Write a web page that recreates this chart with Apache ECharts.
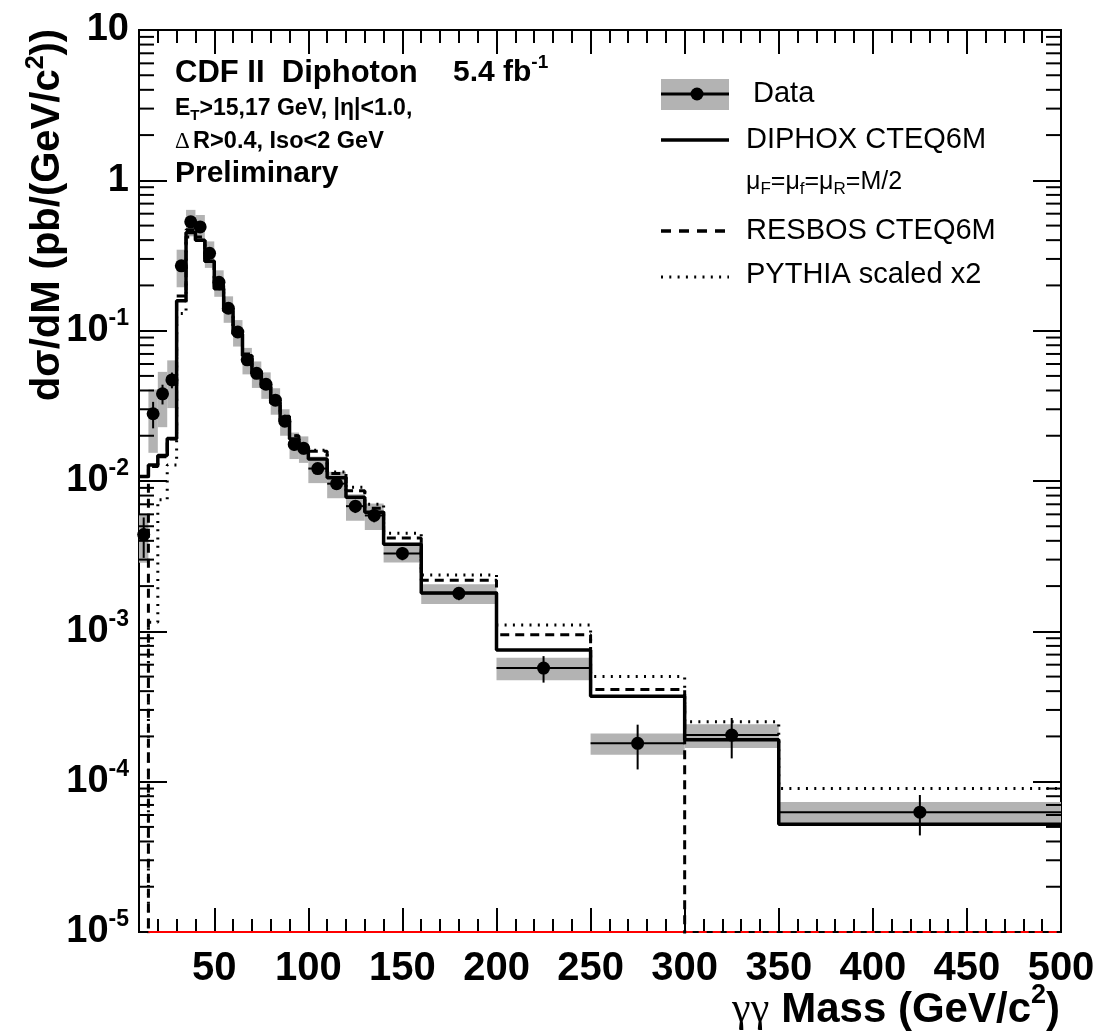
<!DOCTYPE html>
<html><head><meta charset="utf-8">
<script src="https://cdn.jsdelivr.net/npm/echarts@6/dist/echarts.min.js"></script>
<style>html,body{margin:0;padding:0;background:#fff}#c{width:1101px;height:1035px}</style>
</head><body><div id="c"></div>
<script>
// ---- data ----
const binEdges = [10,15,20,25,30,35,40,45,50,55,60,65,70,75,80,85,90,95,100,110,120,130,140,160,200,250,300,350,500];
const dataValues = [0.0044,0.028,0.038,0.047,0.27,0.53,0.49,0.327,0.21,0.141,0.098,0.064,0.052,0.044,0.0345,0.025,0.0175,0.0165,0.0121,0.0096,0.0068,0.0059,0.0033,0.00179,0.00057,0.00018,0.000204,0.0000627];
const dataSys   = [0.35,0.45,0.40,0.35,0.28,0.20,0.20,0.20,0.20,0.20,0.20,0.20,0.20,0.20,0.20,0.20,0.20,0.20,0.20,0.20,0.20,0.20,0.13,0.15,0.17,0.16,0.18,0.17];
const dataStat  = [0.30,0.20,0.15,0.12,0.05,0.04,0.04,0.05,0.05,0.05,0.06,0.06,0.07,0.07,0.08,0.08,0.09,0.09,0.08,0.09,0.10,0.10,0.10,0.10,0.20,0.33,0.30,0.30];
const diphox = [0.0107,0.0128,0.0148,0.0192,0.158,0.45,0.40,0.29,0.19,0.135,0.095,0.068,0.052,0.042,0.033,0.025,0.019,0.0165,0.014,0.0105,0.0078,0.0062,0.0038,0.0018,0.00075,0.00037,0.00019,0.000052];
const resbos = [0,0.0125,0.0145,0.019,0.17,0.47,0.42,0.30,0.20,0.14,0.098,0.070,0.054,0.044,0.035,0.027,0.020,0.0172,0.0158,0.0112,0.0086,0.0066,0.00417,0.00219,0.00095,0.00041,0,0];
const pythia = [0,0.00115,0.0075,0.0128,0.13,0.42,0.40,0.29,0.19,0.135,0.095,0.068,0.053,0.043,0.034,0.026,0.020,0.017,0.016,0.0115,0.0091,0.0070,0.0045,0.00237,0.0011,0.0005,0.00025,0.00009];
const redBaseSolid = [15, 300];
const redBaseDashed = [300, 500];
const xMajorTicks = [50,100,150,200,250,300,350,400,450,500];
const xMinorTicks = [20,30,40,60,70,80,90,110,120,130,140,160,170,180,190,210,220,230,240,260,270,280,290,310,320,330,340,360,370,380,390,410,420,430,440,460,470,480,490];
const yRange = [1e-5, 10];
const yMinorTicks = [];
for (let e = -5; e <= 0; e++) for (let k = 2; k <= 9; k++) yMinorTicks.push(k * Math.pow(10, e));

// ---- build ----
const X0 = binEdges[0], X1 = binEdges[binEdges.length - 1];
const FLOOR = 1e-9;
function stepPoints(vals) {
  const pts = vals.map((v, i) => [binEdges[i], v > 0 ? v : FLOOR]);
  const last = vals[vals.length - 1];
  pts.push([X1, last > 0 ? last : FLOOR]);
  return pts;
}
const binItems = dataValues.map((v, i) => [binEdges[i], binEdges[i+1], (binEdges[i] + binEdges[i+1]) / 2, v, dataSys[i], dataStat[i]]);

const BOLD = "'Liberation Sans', Arial, Helvetica, sans-serif";

function yLabel(v) {
  const e = Math.round(Math.log10(v));
  if (e === 1) return '{b|10}';
  if (e === 0) return '{b|1}';
  return '{b|10}{s|' + e + '}';
}
const yLabelRich = {
  b: {fontFamily: BOLD, fontWeight: 'bold', fontSize: 38, color: '#000'},
  s: {fontFamily: BOLD, fontWeight: 'bold', fontSize: 23, color: '#000', padding: [0, 0, 24, 0]}
};

const xAxisBase = {type: 'value', min: X0, max: X1, axisLine: {show: false}, splitLine: {show: false}};
const yAxisBase = {type: 'log', min: yRange[0], max: yRange[1], splitNumber: 6, logBase: 10, axisLine: {show: false}, splitLine: {show: false}};

const option = {
  animation: false,
  backgroundColor: '#fff',
  grid: {left: 139, right: 40, top: 30, bottom: 103, containLabel: false, outerBoundsMode: 'none',
    show: true, borderColor: '#000', borderWidth: 2, backgroundColor: 'transparent'},
  xAxis: [
    Object.assign({}, xAxisBase, {position: 'bottom',
      axisTick: {inside: true, length: 24, customValues: xMajorTicks, lineStyle: {color: '#000', width: 2}},
      axisLabel: {customValues: xMajorTicks, margin: 17, fontFamily: BOLD, fontWeight: 'bold', fontSize: 40, color: '#000'}}),
    Object.assign({}, xAxisBase, {position: 'bottom',
      axisTick: {inside: true, length: 13, customValues: xMinorTicks, lineStyle: {color: '#000', width: 2}},
      axisLabel: {show: false}}),
    Object.assign({}, xAxisBase, {position: 'top',
      axisTick: {inside: true, length: 24, customValues: xMajorTicks, lineStyle: {color: '#000', width: 2}},
      axisLabel: {show: false}}),
    Object.assign({}, xAxisBase, {position: 'top',
      axisTick: {inside: true, length: 13, customValues: xMinorTicks, lineStyle: {color: '#000', width: 2}},
      axisLabel: {show: false}})
  ],
  yAxis: [
    Object.assign({}, yAxisBase, {position: 'left',
      axisTick: {inside: true, length: 28, lineStyle: {color: '#000', width: 2}},
      axisLabel: {margin: 10, formatter: yLabel, rich: yLabelRich}}),
    Object.assign({}, yAxisBase, {position: 'right',
      axisTick: {inside: true, length: 28, lineStyle: {color: '#000', width: 2}},
      axisLabel: {show: false}})
  ],
  graphic: [
    // axis titles
    {type: 'text', x: 48, y: 215, rotation: Math.PI / 2,
      style: {text: '{b|dσ/dM (pb/(GeV/c}{s|2}{b|))}', align: 'center', verticalAlign: 'middle',
        rich: {b: {fontFamily: BOLD, fontWeight: 'bold', fontSize: 40, fill: '#000'},
               s: {fontFamily: BOLD, fontWeight: 'bold', fontSize: 25, fill: '#000', padding: [0, 0, 24, 0]}}}},
    {type: 'text', x: 1060, y: 1010,
      style: {text: '{g|γγ}{b|Mass (GeV/c}{s|2}{b|)}', align: 'right', verticalAlign: 'middle',
        rich: {g: {fontFamily: "'Liberation Serif', serif", fontSize: 42, fill: '#000', padding: [0, 12, 0, 0]},
               b: {fontFamily: BOLD, fontWeight: 'bold', fontSize: 42, fill: '#000'},
               s: {fontFamily: BOLD, fontWeight: 'bold', fontSize: 27, fill: '#000', padding: [0, 0, 28, 0]}}}},
    // top-left labels
    {type: 'text', x: 175, y: 73, style: {text: 'CDF II  Diphoton', verticalAlign: 'middle', font: "bold 31px " + BOLD, fill: '#000'}},
    {type: 'text', x: 453, y: 73, style: {text: '{b|5.4 fb}{s|-1}', verticalAlign: 'middle',
      rich: {b: {fontFamily: BOLD, fontWeight: 'bold', fontSize: 30, fill: '#000'},
             s: {fontFamily: BOLD, fontWeight: 'bold', fontSize: 19, fill: '#000', padding: [0, 0, 20, 0]}}}},
    {type: 'text', x: 175, y: 109, style: {text: '{b|E}{t|T}{b|>15,17 GeV, |η|<1.0,}', verticalAlign: 'middle',
      rich: {b: {fontFamily: BOLD, fontWeight: 'bold', fontSize: 23, fill: '#000'},
             t: {fontFamily: BOLD, fontWeight: 'bold', fontSize: 15, fill: '#000', padding: [13, 0, 0, 0]}}}},
    {type: 'text', x: 175, y: 142, style: {text: '{d|Δ} {b|R>0.4, Iso<2 GeV}', verticalAlign: 'middle',
      rich: {d: {fontFamily: "'Liberation Serif', serif", fontSize: 23, fill: '#000'},
             b: {fontFamily: BOLD, fontWeight: 'bold', fontSize: 23.5, fill: '#000'}}}},
    {type: 'text', x: 175, y: 174, style: {text: 'Preliminary', verticalAlign: 'middle', font: "bold 30px " + BOLD, fill: '#000'}},
    // legend
    {type: 'rect', shape: {x: 661, y: 79, width: 68, height: 31}, style: {fill: '#b3b3b3'}},
    {type: 'line', shape: {x1: 661, y1: 94, x2: 729, y2: 94}, style: {stroke: '#000', lineWidth: 3}},
    {type: 'circle', shape: {cx: 697, cy: 94, r: 6.5}, style: {fill: '#000'}},
    {type: 'text', x: 753, y: 94, style: {text: 'Data', verticalAlign: 'middle', font: "29px " + BOLD, fill: '#000'}},
    {type: 'line', shape: {x1: 661, y1: 140, x2: 729, y2: 140}, style: {stroke: '#000', lineWidth: 3.5}},
    {type: 'text', x: 746, y: 140, style: {text: 'DIPHOX CTEQ6M', verticalAlign: 'middle', font: "29px " + BOLD, fill: '#000'}},
    {type: 'text', x: 746, y: 182, style: {text: '{m|μ}{u|F}{m|=μ}{u|f}{m|=μ}{u|R}{m|=M/2}', verticalAlign: 'middle',
      rich: {m: {fontFamily: BOLD, fontSize: 25, fill: '#000'},
             u: {fontFamily: BOLD, fontSize: 17, fill: '#000', padding: [14, 0, 0, 0]}}}},
    {type: 'line', shape: {x1: 661, y1: 231, x2: 729, y2: 231}, style: {stroke: '#000', lineWidth: 3.5, lineDash: [10, 8]}},
    {type: 'text', x: 746, y: 231, style: {text: 'RESBOS CTEQ6M', verticalAlign: 'middle', font: "29px " + BOLD, fill: '#000'}},
    {type: 'line', shape: {x1: 661, y1: 277, x2: 729, y2: 277}, style: {stroke: '#000', lineWidth: 3, lineDash: [2, 6.3]}},
    {type: 'text', x: 746, y: 275, style: {text: 'PYTHIA scaled x2', verticalAlign: 'middle', font: "29px " + BOLD, fill: '#000'}}
  ],
  series: [
    {name: 'sys', type: 'custom', z: 1, data: binItems, encode: {x: [0, 1], y: 3}, silent: true,
      renderItem: function (params, api) {
        const lo = api.value(0), hi = api.value(1), v = api.value(3), s = api.value(4);
        const a = api.coord([lo, v * (1 + s)]), b = api.coord([hi, v * (1 - s)]);
        return {type: 'rect', shape: {x: a[0], y: a[1], width: b[0] - a[0], height: b[1] - a[1]}, style: {fill: '#b3b3b3'}};
      }},
    {name: 'RESBOS CTEQ6M', type: 'line', step: 'end', z: 3, data: stepPoints(resbos), symbol: 'none', clip: true,
      lineStyle: {color: '#000', width: 3, type: [9, 6]}},
    {name: 'PYTHIA scaled x2', type: 'line', step: 'end', z: 3, data: stepPoints(pythia), symbol: 'none', clip: true,
      lineStyle: {color: '#000', width: 3, type: [2, 6.3]}},
    {name: 'DIPHOX CTEQ6M', type: 'line', step: 'end', z: 4, data: stepPoints(diphox), symbol: 'none', clip: true,
      lineStyle: {color: '#000', width: 3.5}},
    {name: 'dataErr', type: 'custom', z: 5, data: binItems, encode: {x: [0, 1], y: 3}, silent: true,
      renderItem: function (params, api) {
        const lo = api.value(0), hi = api.value(1), c = api.value(2), v = api.value(3), st = api.value(5);
        const pl = api.coord([lo, v]), ph = api.coord([hi, v]);
        const pt = api.coord([c, v * (1 + st)]), pb = api.coord([c, v * (1 - st)]);
        return {type: 'group', children: [
          {type: 'line', shape: {x1: pl[0], y1: pl[1], x2: ph[0], y2: ph[1]}, style: {stroke: '#000', lineWidth: 2}},
          {type: 'line', shape: {x1: pt[0], y1: pt[1], x2: pb[0], y2: pb[1]}, style: {stroke: '#000', lineWidth: 2}}
        ]};
      }},
    {name: 'Data', type: 'scatter', z: 6, data: binItems.map(d => [d[2], d[3]]), symbol: 'circle', symbolSize: 13,
      itemStyle: {color: '#000', opacity: 1}},
    {name: 'yMinor', type: 'custom', z: 7, silent: true, data: yMinorTicks.map(v => [X0, v]), encode: {x: 0, y: 1},
      renderItem: function (params, api) {
        const cs = params.coordSys;
        const y = api.coord([X0, api.value(1)])[1];
        return {type: 'group', children: [
          {type: 'line', shape: {x1: cs.x, y1: y, x2: cs.x + 15, y2: y}, style: {stroke: '#000', lineWidth: 2}},
          {type: 'line', shape: {x1: cs.x + cs.width - 15, y1: y, x2: cs.x + cs.width, y2: y}, style: {stroke: '#000', lineWidth: 2}}
        ]};
      }},
    {name: 'baseSolid', type: 'line', z: 2, clip: false, symbol: 'none', data: redBaseSolid.map(x => [x, yRange[0]]),
      lineStyle: {color: '#ff0000', width: 2}},
    {name: 'baseDashed', type: 'line', z: 2, clip: false, symbol: 'none', data: redBaseDashed.map(x => [x, yRange[0]]),
      lineStyle: {color: '#ff0000', width: 2, type: [8, 6]}}
  ]
};
const chart = echarts.init(document.getElementById('c'));
chart.setOption(option);
</script>
</body></html>
